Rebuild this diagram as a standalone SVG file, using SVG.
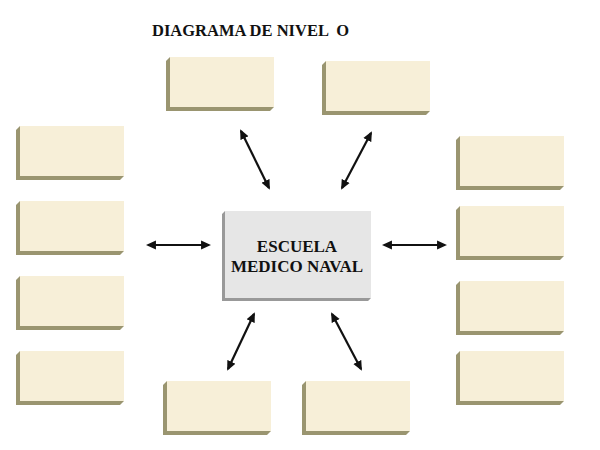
<svg xmlns="http://www.w3.org/2000/svg" width="600" height="450" viewBox="0 0 600 450">
<style>
.b{fill:#f7efd8}
.s{fill:#9a9570}
.t{font-family:"Liberation Serif",serif;font-weight:bold;fill:#111}
.c{stroke:#111;stroke-width:2.2;fill:none;marker-start:url(#a);marker-end:url(#a)}
</style>
<defs>
<marker id="a" viewBox="0 0 10 10" refX="8" refY="5" markerWidth="4.5" markerHeight="4.5" orient="auto-start-reverse"><path d="M0,0.5 L10,5 L0,9.5 z" fill="#111"/></marker>
<g id="box"><path class="s" d="M0,4 L4,0 L4,50 L108,50 L104,54 L0,54 z"/><rect class="b" x="4" y="0" width="104" height="50"/></g>
</defs>
<rect width="600" height="450" fill="#fff"/>
<text class="t" x="152" y="36" font-size="16.5" xml:space="preserve">DIAGRAMA DE NIVEL  O</text>
<g id="n1"><use href="#box" x="166" y="57"/></g>
<g id="n2"><use href="#box" x="322" y="61"/></g>
<g id="n3"><use href="#box" x="16" y="126"/></g>
<g id="n4"><use href="#box" x="16" y="201"/></g>
<g id="n5"><use href="#box" x="16" y="276"/></g>
<g id="n6"><use href="#box" x="16" y="351"/></g>
<g id="n7"><use href="#box" x="456" y="136"/></g>
<g id="n8"><use href="#box" x="456" y="206"/></g>
<g id="n9"><use href="#box" x="456" y="281"/></g>
<g id="n10"><use href="#box" x="456" y="351"/></g>
<g id="n11"><use href="#box" x="163" y="381"/></g>
<g id="n12"><use href="#box" x="302" y="381"/></g>
<g id="center">
<path fill="#999" d="M222,214 L225,211 L225,298 L371,298 L368,301 L222,301 z"/>
<rect x="225" y="211" width="146" height="87" fill="#e6e6e6"/>
<text class="t" x="297" y="252" font-size="17" text-anchor="middle">ESCUELA</text>
<text class="t" x="297" y="272" font-size="17" text-anchor="middle">MEDICO NAVAL</text>
</g>
<g id="connectors">
<line class="c" x1="241" y1="131" x2="269" y2="188"/>
<line class="c" x1="371" y1="133" x2="342" y2="188"/>
<line class="c" x1="148" y1="245" x2="209" y2="245"/>
<line class="c" x1="384" y1="245" x2="445" y2="245"/>
<line class="c" x1="254" y1="314" x2="228" y2="369"/>
<line class="c" x1="332" y1="314" x2="361" y2="369"/>
</g>
</svg>
